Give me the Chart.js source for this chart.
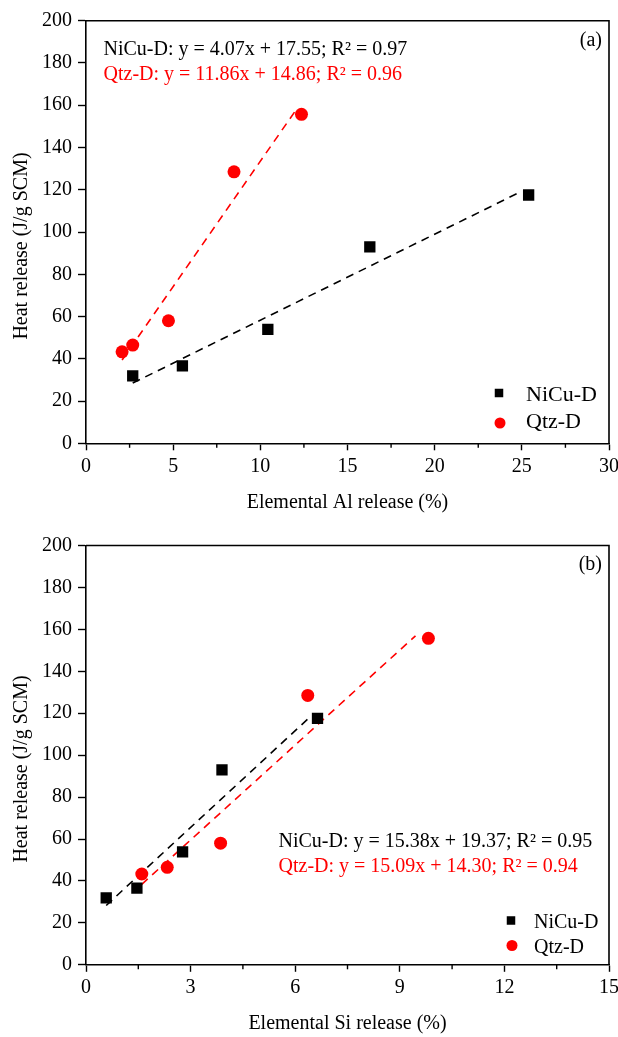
<!DOCTYPE html>
<html><head><meta charset="utf-8">
<script src="https://cdn.jsdelivr.net/npm/chart.js@4.4.1/dist/chart.umd.min.js"></script>
<style>
html,body{margin:0;padding:0;background:#fff;width:618px;height:1037px;overflow:hidden}
canvas{position:absolute;left:0}
#ca{top:0}#cb{top:520px}
</style></head>
<body>
<canvas id="ca" width="618" height="520"></canvas>
<canvas id="cb" width="618" height="517"></canvas>
<script>
// ---- data ----
const niCuHeat = [31.9, 36.6, 53.9, 93.0, 117.5];
const qtzHeat  = [43.3, 46.5, 58.0, 128.5, 155.7];
const alNiCu   = [2.68, 5.53, 10.43, 16.28, 25.39];
const alQtz    = [2.07, 2.68, 4.73, 8.49, 12.36];
const siNiCu   = [0.58, 1.46, 2.77, 3.90, 6.64];
const siQtz    = [1.60, 2.33, 3.86, 6.36, 9.82];
// dashed linear-fit end points (as drawn in the picture)
const alNiCuFitX = [2.68, 25.0], alNiCuFitY = [28.5, 119.3];
const alQtzFitX  = [2.07, 12.15], alQtzFitY  = [39.4, 159.0];
const siNiCuFitX = [0.58, 6.4],  siNiCuFitY = [28.3, 117.8];
const siQtzFitX  = [1.60, 9.45], siQtzFitY  = [38.4, 156.9];
const yTicks = [0, 20, 40, 60, 80, 100, 120, 140, 160, 180, 200];
const alTicks = [0, 5, 10, 15, 20, 25, 30];
const siTicks = [0, 3, 6, 9, 12, 15];
const seriesNames = ['NiCu-D', 'Qtz-D'];
const yTitle = 'Heat release (J/g SCM)';
const eqA = ['NiCu-D: y = 4.07x + 17.55; R² = 0.97', 'Qtz-D: y = 11.86x + 14.86; R² = 0.96'];
const eqB = ['NiCu-D: y = 15.38x + 19.37; R² = 0.95', 'Qtz-D: y = 15.09x + 14.30; R² = 0.94'];

const RED = '#ff0000', BLACK = '#000000';
const FONT = '"Liberation Serif", "Times New Roman", serif';
const pts = (xs, ys) => xs.map((x, i) => ({x, y: ys[i]}));

const decoPlugin = {
  id: 'deco',
  afterDraw(chart, args, o) {
    const {ctx, chartArea: a, scales} = chart;
    ctx.save();
    ctx.strokeStyle = BLACK; ctx.lineWidth = 1.6;
    ctx.beginPath();
    ctx.moveTo(a.left, a.top); ctx.lineTo(a.right, a.top); ctx.lineTo(a.right, a.bottom);
    ctx.stroke();
    // minor ticks on x axis
    const xs = scales.x, t = xs.ticks;
    ctx.lineWidth = 1.4;
    for (let i = 0; i < t.length - 1; i++) {
      const px = xs.getPixelForValue((t[i].value + t[i + 1].value) / 2);
      ctx.beginPath(); ctx.moveTo(px, a.bottom); ctx.lineTo(px, a.bottom + 4.5); ctx.stroke();
    }
    ctx.font = '20px ' + FONT;
    ctx.textBaseline = 'alphabetic';
    // y title
    ctx.save();
    ctx.translate(o.yTitleX, o.yTitleY); ctx.rotate(-Math.PI / 2);
    ctx.textAlign = 'center'; ctx.textBaseline = 'middle'; ctx.fillStyle = BLACK;
    ctx.fillText(yTitle, 0, 0);
    ctx.restore();
    // panel label
    ctx.textAlign = 'right'; ctx.fillStyle = BLACK;
    ctx.fillText(o.panel, o.panelX, o.panelY);
    // equations
    ctx.textAlign = 'left';
    ctx.fillStyle = BLACK; ctx.fillText(o.eq[0], o.eqX, o.eqY[0]);
    ctx.fillStyle = RED;   ctx.fillText(o.eq[1], o.eqX, o.eqY[1]);
    // legend
    ctx.font = o.legFont + 'px ' + FONT;
    ctx.fillStyle = BLACK;
    const s = 8.5;
    ctx.fillRect(o.legX - s / 2, o.legY[0] - s / 2, s, s);
    ctx.fillText(seriesNames[0], o.legTextX, o.legBase[0]);
    ctx.fillStyle = RED;
    ctx.beginPath(); ctx.arc(o.legX + 1, o.legY[1], 5.5, 0, Math.PI * 2); ctx.fill();
    ctx.fillStyle = BLACK;
    ctx.fillText(seriesNames[1], o.legTextX, o.legBase[1]);
    ctx.restore();
  }
};

function makeChart(id, xN, xQ, fitNX, fitNY, fitQX, fitQY, xTicks, xTitle, layout, deco) {
  const xMax = xTicks[xTicks.length - 1];
  const step = xTicks[1] - xTicks[0];
  return new Chart(document.getElementById(id), {
    type: 'scatter',
    data: {
      datasets: [
        {label: seriesNames[0], data: pts(xN, niCuHeat), pointStyle: 'rect', pointRadius: 8,
         backgroundColor: BLACK, borderColor: BLACK, borderWidth: 0, order: 0},
        {label: seriesNames[1], data: pts(xQ, qtzHeat), pointStyle: 'circle', pointRadius: 6.5,
         backgroundColor: RED, borderColor: RED, borderWidth: 0, order: 0},
        {label: 'fitN', data: pts(fitNX, fitNY), type: 'line', showLine: true, pointRadius: 0,
         borderColor: BLACK, borderWidth: 1.6, borderDash: [8, 6], fill: false, order: 1},
        {label: 'fitQ', data: pts(fitQX, fitQY), type: 'line', showLine: true, pointRadius: 0,
         borderColor: RED, borderWidth: 1.6, borderDash: [8, 6], fill: false, order: 1}
      ]
    },
    options: {
      responsive: false, animation: false, devicePixelRatio: 1,
      layout: {padding: {left: 0, right: 9, top: layout.top, bottom: 0}},
      plugins: {legend: {display: false}, tooltip: {enabled: false}, deco},
      scales: {
        x: {
          type: 'linear', min: 0, max: xMax,
          afterBuildTicks: (sc) => { sc.ticks = xTicks.map(v => ({value: v})); },
          ticks: {stepSize: step, color: BLACK, padding: 4, font: {family: FONT, size: 20}},
          grid: {display: true, drawOnChartArea: false, drawTicks: true, tickLength: 7, tickColor: BLACK, tickWidth: 1.4},
          border: {display: true, color: BLACK, width: 1.6},
          title: {display: true, text: xTitle, color: BLACK, font: {family: FONT, size: 20}, padding: {top: 0, bottom: layout.xTitlePad}},
          afterFit: (sc) => { sc.height = layout.xh; sc.paddingLeft = 0; sc.paddingRight = 0; }
        },
        y: {
          type: 'linear', min: 0, max: 200,
          afterBuildTicks: (sc) => { sc.ticks = yTicks.map(v => ({value: v})); },
          ticks: {stepSize: 20, color: BLACK, padding: 6, font: {family: FONT, size: 20}},
          grid: {display: true, drawOnChartArea: false, drawTicks: true, tickLength: 8, tickColor: BLACK, tickWidth: 1.4},
          border: {display: true, color: BLACK, width: 1.6},
          afterFit: (sc) => { sc.width = 86; sc.paddingTop = 0; sc.paddingBottom = 0; }
        }
      }
    },
    plugins: [decoPlugin]
  });
}

makeChart('ca', alNiCu, alQtz, alNiCuFitX, alNiCuFitY, alQtzFitX, alQtzFitY, alTicks,
  'Elemental Al release (%)', {top: 20.7, xh: 76.7, xTitlePad: 5},
  {yTitleX: 22, yTitleY: 246, panel: '(a)', panelX: 602, panelY: 46,
   eq: eqA, eqX: 103.5, eqY: [55, 80], legFont: 22,
   legX: 499, legY: [393, 423], legTextX: 526, legBase: [401, 428]});

makeChart('cb', siNiCu, siQtz, siNiCuFitX, siNiCuFitY, siQtzFitX, siQtzFitY, siTicks,
  'Elemental Si release (%)', {top: 25.5, xh: 72.2, xTitlePad: 1},
  {yTitleX: 22, yTitleY: 249, panel: '(b)', panelX: 602, panelY: 50,
   eq: eqB, eqX: 278.5, eqY: [326.5, 352], legFont: 20,
   legX: 511, legY: [400.5, 425.5], legTextX: 534, legBase: [408, 432.5]});
</script>
</body></html>
